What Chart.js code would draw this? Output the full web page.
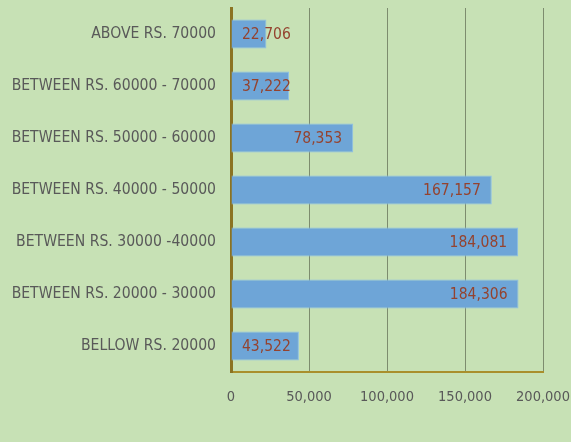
<!DOCTYPE html>
<html>
<head>
<meta charset="utf-8">
<title>Income groups</title>
<script src="https://cdn.jsdelivr.net/npm/chart.js@4.4.1/dist/chart.umd.min.js"></script>
<style>
    html, body { margin: 0; padding: 0; background: #c7e1b5; }
    #wrap { width: 571px; height: 442px; position: relative; }
</style>
</head>
<body>
<div id="wrap"><canvas id="incomeChart"></canvas></div>
<script>
/* =================================================================
   Income groups - horizontal bar chart
   ================================================================= */

const categories = [
    'ABOVE RS. 70000',
    'BETWEEN RS. 60000 - 70000',
    'BETWEEN RS. 50000 - 60000',
    'BETWEEN RS. 40000 - 50000',
    'BETWEEN RS. 30000 -40000',
    'BETWEEN RS. 20000 - 30000',
    'BELLOW RS. 20000'
];
const values = [22706, 37222, 78353, 167157, 184081, 184306, 43522];
const xTicks = [0, 50000, 100000, 150000, 200000];

const FONT = "'Liberation Sans Narrow', 'DejaVu Sans Condensed', 'Noto Sans', sans-serif";

/**
 * Etykiety wartosci - "inside end", ale nie wychodza poza poczatek slupka
 */
const valueLabels = {
    id: 'valueLabels',
    afterDatasetsDraw(chart) {
        const ctx = chart.ctx;
        const meta = chart.getDatasetMeta(0);
        const base = chart.scales.x.getPixelForValue(0);
        ctx.save();
        ctx.font = '15.5px ' + FONT;
        ctx.fillStyle = '#94432f';
        ctx.textBaseline = 'middle';
        ctx.textAlign = 'right';
        meta.data.forEach((bar, i) => {
            let text = values[i].toLocaleString('en-US');
            let w = ctx.measureText(text).width;
            let xEnd = Math.max(bar.x - 11, base + 11 + w);
            ctx.fillText(text, xEnd, bar.y + 1);
        });
        ctx.restore();
    }
};

let ctx = document.getElementById('incomeChart').getContext('2d');

new Chart(ctx, {
    type: 'bar',
    data: {
        labels: categories,
        datasets: [{
            data: values,
            backgroundColor: '#6ea5d7',
            borderColor: '#8dbfe8',
            borderWidth: 1,
            categoryPercentage: 1,
            barPercentage: 0.56
        }]
    },
    options: {
        indexAxis: 'y',
        responsive: true,
        maintainAspectRatio: false,
        animation: false,
        layout: { padding: { top: 8, right: 28, bottom: 0, left: 0 } },
        plugins: {
            legend: { display: false },
            title: { display: false },
            tooltip: { enabled: false }
        },
        scales: {
            x: {
                min: 0,
                max: 200000,
                afterBuildTicks: (scale) => { scale.ticks = xTicks.map(v => ({ value: v })); },
                afterFit: (scale) => {
                    scale.height = 70;
                    scale.paddingLeft = 0;
                    scale.paddingRight = 0;
                },
                grid: { color: '#7d8c6e', lineWidth: 1, drawTicks: false },
                border: { color: '#a98f2c', width: 2 },
                ticks: {
                    color: '#595959',
                    padding: 17,
                    maxRotation: 0,
                    font: { family: FONT, size: 14.5 },
                    callback: (v) => Number(v).toLocaleString('en-US')
                }
            },
            y: {
                afterFit: (scale) => {
                    scale.width = 231;
                    scale.paddingTop = 0;
                    scale.paddingBottom = 0;
                },
                grid: { display: false, drawTicks: false },
                border: { color: '#8b7322', width: 3 },
                ticks: {
                    color: '#595959',
                    padding: 15,
                    font: { family: FONT, size: 15.6 }
                }
            }
        }
    },
    plugins: [valueLabels]
});
</script>
</body>
</html>
